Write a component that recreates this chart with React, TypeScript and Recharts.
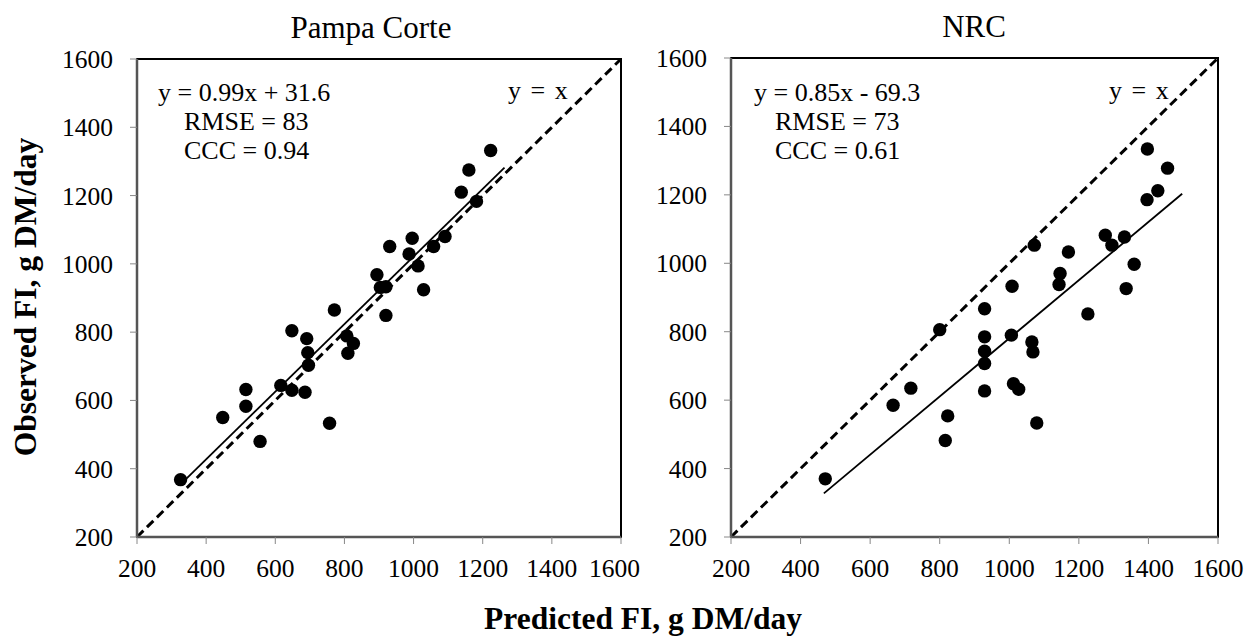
import React from 'react';
import { ScatterChart, Scatter, XAxis, YAxis, ReferenceLine, ReferenceArea } from 'recharts';

const TICKS = [200, 400, 600, 800, 1000, 1200, 1400, 1600];

// Pampa Corte: predicted vs observed FI (g DM/day)
const pampaPredicted = [326, 448, 515, 515, 556, 616, 648, 648, 686, 691, 694, 696, 757, 771, 807, 826, 810, 920, 894, 904, 920, 931, 996, 987, 1013, 1029, 1058, 1091, 1138, 1160, 1182, 1223];
const pampaObserved = [368, 550, 632, 583, 480, 644, 630, 804, 624, 781, 740, 703, 533, 865, 789, 767, 738, 849, 968, 931, 933, 1051, 1075, 1029, 994, 924, 1051, 1080, 1210, 1275, 1183, 1332];

// NRC: predicted vs observed FI (g DM/day)
const nrcPredicted = [471, 666, 717, 800, 823, 816, 929, 929, 929, 929, 929, 1008, 1006, 1012, 1027, 1065, 1068, 1079, 1072, 1146, 1143, 1170, 1226, 1276, 1295, 1331, 1336, 1359, 1396, 1427, 1397, 1455];
const nrcObserved = [370, 585, 635, 806, 554, 482, 867, 785, 743, 707, 627, 933, 790, 648, 632, 770, 741, 533, 1053, 970, 938, 1033, 852, 1082, 1053, 1077, 926, 997, 1186, 1212, 1334, 1278];

// fitted lines: slope, intercept, x range of the drawn trendline
const pampaFit = { slope: 0.99, intercept: 31.6, from: 340, to: 1263 };
const nrcFit = { slope: 0.85, intercept: -69.3, from: 467, to: 1497 };

const SERIF = 'Liberation Serif, Times New Roman, serif';

const toPoints = (xs: number[], ys: number[]) => xs.map((x, i) => ({ x, y: ys[i] }));

const Dot = (p: any) => <circle cx={p.cx} cy={p.cy} r={6.7} fill="#000" />;

interface PanelProps {
  data: { x: number; y: number }[];
  fit: { slope: number; intercept: number; from: number; to: number };
  width: number;
  margin: { top: number; right: number; bottom: number; left: number };
}

function Panel({ data, fit, width, margin }: PanelProps) {
  const tick = { fontSize: 25.5, fontFamily: SERIF, fill: '#000' };
  return (
    <ScatterChart width={width} height={637} margin={margin} style={{ fontFamily: SERIF }}>
      <ReferenceArea x1={200} x2={1600} y1={200} y2={1600} fill="none" stroke="#000" strokeWidth={2} />
      <XAxis
        type="number"
        dataKey="x"
        domain={[200, 1600]}
        ticks={TICKS}
        height={60}
        tick={tick}
        tickSize={7}
        tickMargin={15}
        axisLine={{ stroke: '#555', strokeWidth: 2.5 }}
        tickLine={{ stroke: '#888' }}
        allowDataOverflow
      />
      <YAxis
        type="number"
        dataKey="y"
        domain={[200, 1600]}
        ticks={TICKS}
        width={60}
        tick={tick}
        tickSize={7}
        tickMargin={17}
        axisLine={{ stroke: '#555', strokeWidth: 2.5 }}
        tickLine={{ stroke: '#888' }}
        allowDataOverflow
      />
      <ReferenceLine
        segment={[{ x: 200, y: 200 }, { x: 1600, y: 1600 }]}
        stroke="#000"
        strokeWidth={3}
        strokeDasharray="9 5"
      />
      <ReferenceLine
        segment={[
          { x: fit.from, y: fit.slope * fit.from + fit.intercept },
          { x: fit.to, y: fit.slope * fit.to + fit.intercept },
        ]}
        stroke="#000"
        strokeWidth={1.8}
      />
      <Scatter data={data} shape={Dot} isAnimationActive={false} />
    </ScatterChart>
  );
}

export default function App() {
  const txt = { fontFamily: SERIF, fontSize: 26, fill: '#000' };
  const bold = { fontFamily: SERIF, fontSize: 31.5, fontWeight: 700, fill: '#000' };
  return (
    <div style={{ position: 'absolute', left: 0, top: 0, width: 1246, height: 637, background: '#fff' }}>
      <div style={{ position: 'absolute', left: 0, top: 0 }}>
        <Panel
          data={toPoints(pampaPredicted, pampaObserved)}
          fit={pampaFit}
          width={640}
          margin={{ top: 59, right: 19, bottom: 40, left: 77 }}
        />
      </div>
      <div style={{ position: 'absolute', left: 640, top: 0 }}>
        <Panel
          data={toPoints(nrcPredicted, nrcObserved)}
          fit={nrcFit}
          width={606}
          margin={{ top: 58, right: 28, bottom: 40, left: 31 }}
        />
      </div>
      <svg width={1246} height={637} style={{ position: 'absolute', left: 0, top: 0, pointerEvents: 'none' }}>
        <text x={371} y={38} textAnchor="middle" style={{ ...txt, fontSize: 31 }}>Pampa Corte</text>
        <text x={974} y={37} textAnchor="middle" style={{ ...txt, fontSize: 31 }}>NRC</text>

        <text x={158} y={101} style={txt}>y = 0.99x + 31.6</text>
        <text x={184} y={130} style={txt}>RMSE = 83</text>
        <text x={184} y={159} style={txt}>CCC = 0.94</text>
        <text x={508} y={99} style={{ ...txt, wordSpacing: 3 }}>y = x</text>

        <text x={754} y={101} style={txt}>y = 0.85x - 69.3</text>
        <text x={775} y={130} style={txt}>RMSE = 73</text>
        <text x={775} y={159} style={txt}>CCC = 0.61</text>
        <text x={1109} y={99} style={{ ...txt, wordSpacing: 3 }}>y = x</text>

        <text x={36} y={297} textAnchor="middle" transform="rotate(-90 36 297)" style={bold}>Observed FI, g DM/day</text>
        <text x={643} y={629} textAnchor="middle" style={bold}>Predicted FI, g DM/day</text>
      </svg>
    </div>
  );
}
